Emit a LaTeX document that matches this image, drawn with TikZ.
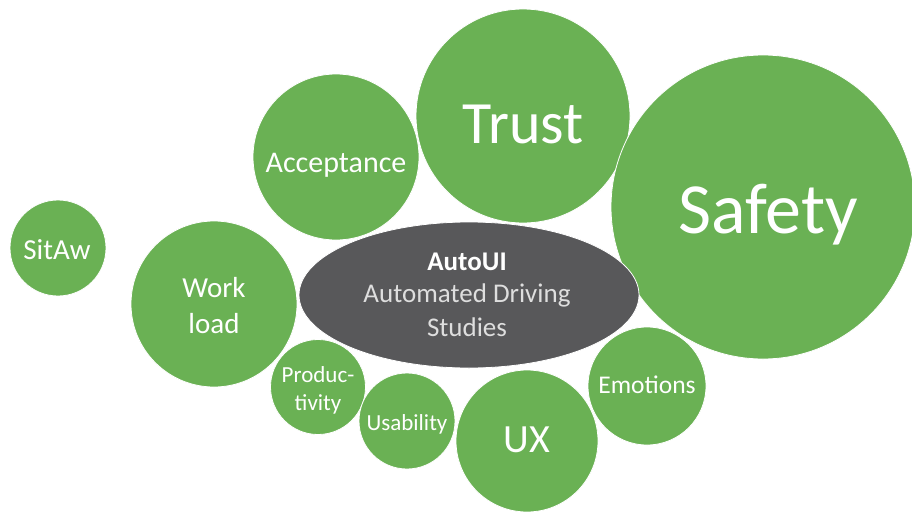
\documentclass[tikz,border=0pt]{standalone}
\usepackage{fontspec}
\setmainfont{Carlito}
\usetikzlibrary{shapes.geometric}
\definecolor{bubgreen}{RGB}{106,177,84}
\definecolor{hubgray}{RGB}{88,88,90}
\definecolor{hubtext}{RGB}{222,222,222}
\begin{document}
\begin{tikzpicture}[x=1pt,y=-1pt,
  bub/.style={circle, fill=bubgreen, draw=white, line width=0.8pt, inner sep=0pt},
  hubshape/.style={ellipse, fill=hubgray, draw=white, line width=0.8pt, inner sep=0pt},
  lbl/.style={text=white, anchor=base, inner sep=0pt},
  hlbl/.style={text=hubtext, anchor=base, inner sep=0pt, font=\fontsize{27}{32}\selectfont},
]
\useasboundingbox (0,0) rectangle (912,511);
\fill[white] (0,0) rectangle (912,511);

% bubbles
\node[bub, minimum size=96pt]  (sitaw)  at (58,248)  {};
\node[bub, minimum size=166pt] (work)   at (214,304) {};
\node[bub, minimum size=166pt] (accept) at (336,157) {};
\node[bub, minimum size=214pt] (trust)  at (523,116) {};
\node[bub, minimum size=304pt] (safety) at (763,207) {};
\node[bub, minimum size=95pt]  (prod)   at (318,387) {};
\node[bub, minimum size=96pt]  (usab)   at (407,421) {};
\node[bub, minimum size=142pt] (ux)     at (527,441) {};
\node[bub, minimum size=118pt] (emot)   at (647,386) {};
\node[hubshape, minimum width=340pt, minimum height=146pt] (hub) at (469,295) {};

% labels
\node[lbl, font=\fontsize{29}{35}\selectfont] (sitawT) at (57,259) {SitAw};
\node[lbl, font=\fontsize{29}{35}\selectfont] (workT1) at (214,297) {Work};
\node[lbl, font=\fontsize{29}{35}\selectfont] (workT2) at (214,333) {load};
\node[lbl, font=\fontsize{30}{36}\selectfont] (acceptT) at (336,172) {Acceptance};
\node[lbl, font=\fontsize{60}{72}\selectfont] (trustT) at (523,143) {Trust};
\node[lbl, font=\fontsize{72}{86}\selectfont] (safetyT) at (768,233) {Safety};
\node[lbl, font=\fontsize{23}{28}\selectfont] (prodT1) at (318,382) {Produc-};
\node[lbl, font=\fontsize{23}{28}\selectfont] (prodT2) at (318,410) {tivity};
\node[lbl, font=\fontsize{23}{28}\selectfont] (usabT) at (407,430) {Usability};
\node[lbl, font=\fontsize{40}{48}\selectfont] (uxT) at (527,452) {UX};
\node[lbl, font=\fontsize{25.5}{31}\selectfont] (emotT) at (647,393) {Emotions};
\node[hlbl, text=white, font=\fontsize{27}{32}\selectfont\bfseries] (hubT1) at (467,270) {AutoUI};
\node[hlbl] (hubT2) at (467,302) {Automated Driving};
\node[hlbl] (hubT3) at (467,336) {Studies};
\end{tikzpicture}
\end{document}
